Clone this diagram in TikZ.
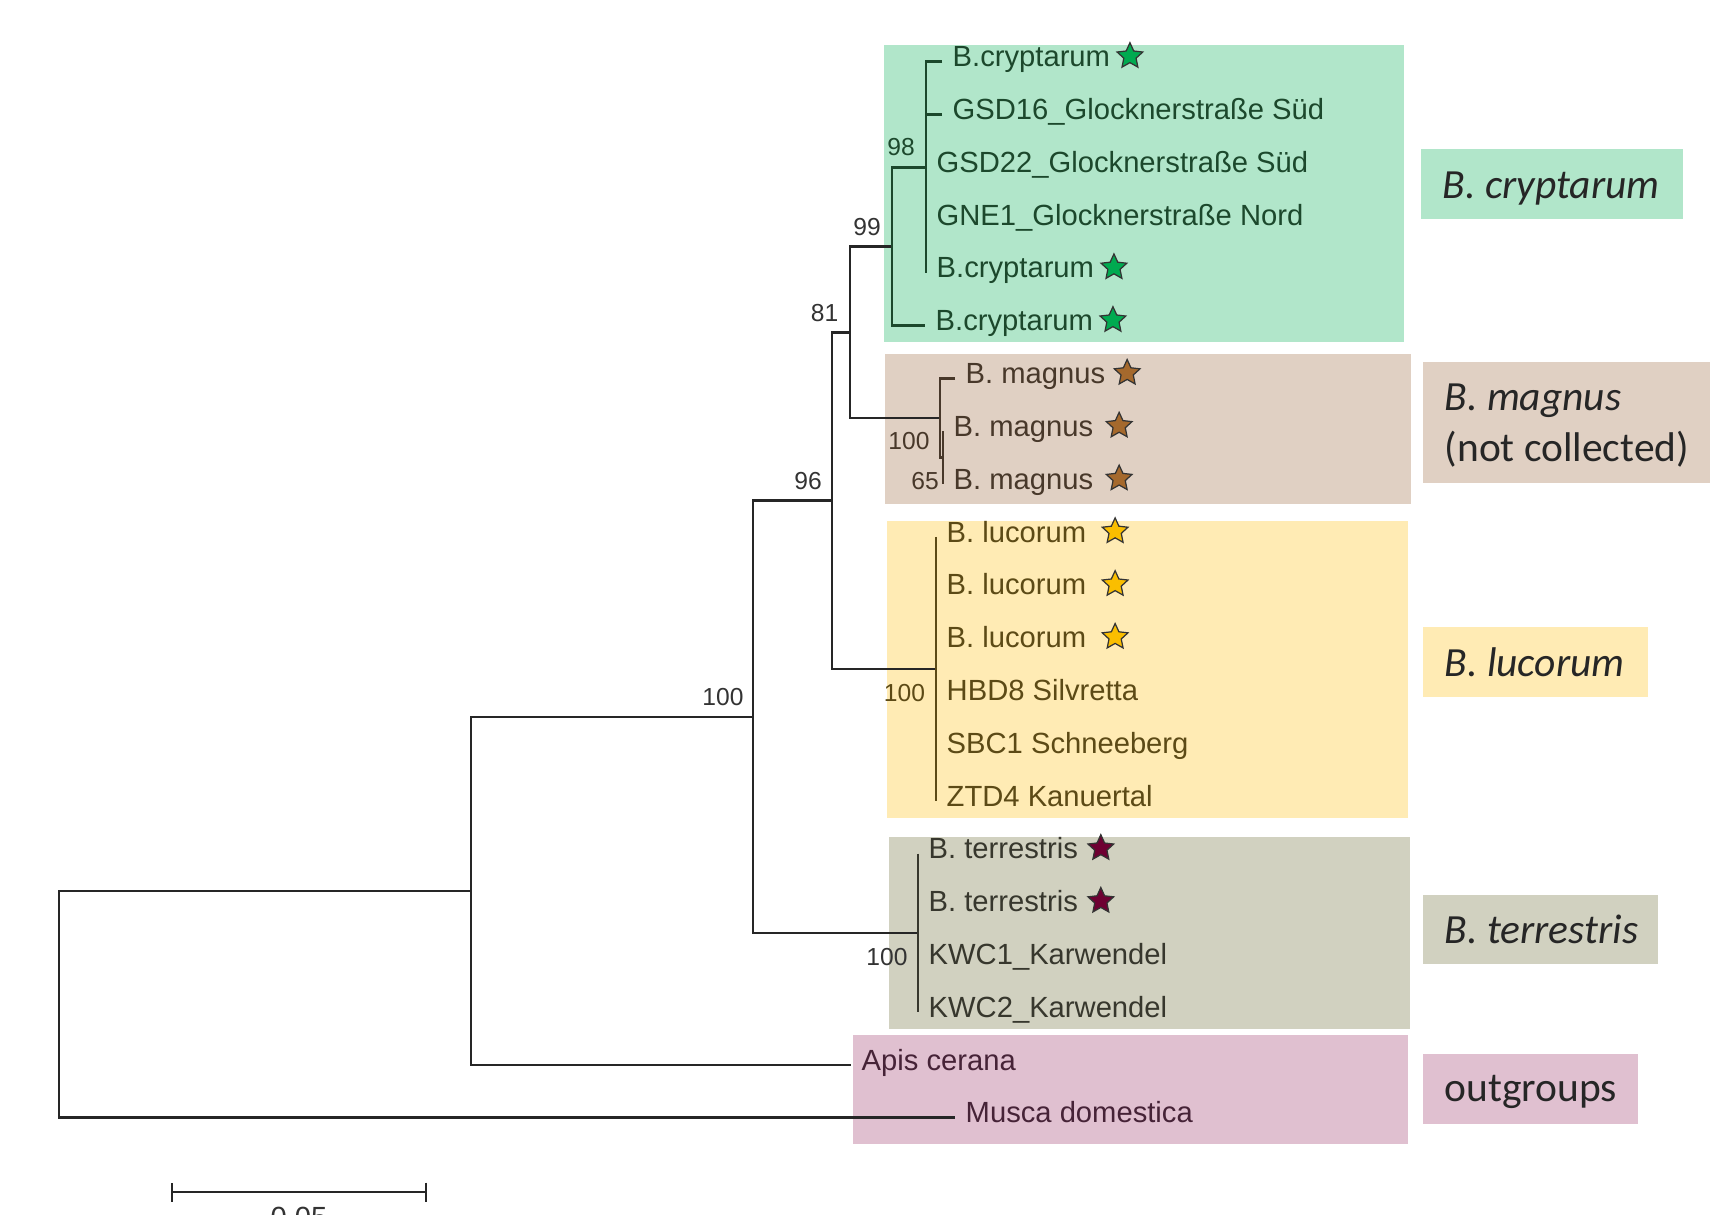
\documentclass[tikz,border=0pt]{standalone}
\usepackage{fontspec}
\setmainfont{Liberation Sans}
\newfontfamily\cladefont{Carlito}
\usepackage{xcolor}
\usepackage{tikz}
\usetikzlibrary{positioning, arrows.meta, shapes.geometric, calc}

\definecolor{crybg}{RGB}{177,230,202}
\definecolor{magbg}{RGB}{224,208,195}
\definecolor{lucbg}{RGB}{255,235,180}
\definecolor{terbg}{RGB}{209,209,192}
\definecolor{outbg}{RGB}{224,192,208}
\definecolor{crytx}{RGB}{28,72,44}
\definecolor{magtx}{RGB}{72,56,42}
\definecolor{luctx}{RGB}{92,74,22}
\definecolor{tertx}{RGB}{55,55,45}
\definecolor{outtx}{RGB}{70,35,55}
\definecolor{crystar}{RGB}{0,170,80}
\definecolor{magstar}{RGB}{165,105,45}
\definecolor{lucstar}{RGB}{250,190,0}
\definecolor{terstar}{RGB}{110,0,50}

\tikzset{
  leaf/.style     ={anchor=west, inner xsep=0.1cm, inner ysep=0pt, text height=5.5pt,
                    text depth=2.6pt, font=\fontsize{8.3}{10}\selectfont},
  boot/.style     ={inner sep=0pt, font=\fontsize{7}{8}\selectfont, text=black!80},
  branch/.style   ={line width=0.7pt, draw=black!85},
  bstar/.style    ={star, star points=5, star point ratio=2.1, minimum size=0.27cm,
                    inner sep=0pt, draw=black!80, line width=0.35pt, yshift=0.055cm},
  cladelbl/.style ={anchor=base west, inner sep=0pt, text=black!85,
                    font=\cladefont\fontsize{11.8}{14.3}\selectfont},
}

\begin{document}
\begin{tikzpicture}[x=0.01cm, y=-0.01cm]
  \useasboundingbox (0,0) rectangle (1717,1215);

  % clade backgrounds
  \fill[crybg] (884,45) rectangle (1404,342);
  \fill[magbg] (885,354) rectangle (1411,504);
  \fill[lucbg] (887,521) rectangle (1408,818);
  \fill[terbg] (889,837) rectangle (1410,1029);
  \fill[outbg] (853,1035) rectangle (1408,1144);

  % leaves
  \node[leaf, text=crytx] (c0) at (942,61.7)  {B.cryptarum};
  \node[leaf, text=crytx] (c1) at (942,114.5) {GSD16\_Glocknerstraße Süd};
  \node[leaf, text=crytx] (c2) at (926,167.3) {GSD22\_Glocknerstraße Süd};
  \node[leaf, text=crytx] (c3) at (926,220.1) {GNE1\_Glocknerstraße Nord};
  \node[leaf, text=crytx] (c4) at (926,272.9) {B.cryptarum};
  \node[leaf, text=crytx] (c5) at (925,325.7) {B.cryptarum};
  \node[leaf, text=magtx] (m0) at (955,378.5) {B. magnus};
  \node[leaf, text=magtx] (m1) at (943,431.3) {B. magnus};
  \node[leaf, text=magtx] (m2) at (943,484.1) {B. magnus};
  \node[leaf, text=luctx] (l0) at (936,536.9) {B. lucorum};
  \node[leaf, text=luctx] (l1) at (936,589.7) {B. lucorum};
  \node[leaf, text=luctx] (l2) at (936,642.5) {B. lucorum};
  \node[leaf, text=luctx] (l3) at (936,695.3) {HBD8 Silvretta};
  \node[leaf, text=luctx] (l4) at (936,748.1) {SBC1 Schneeberg};
  \node[leaf, text=luctx] (l5) at (936,800.9) {ZTD4 Kanuertal};
  \node[leaf, text=tertx] (t0) at (918,853.7) {B. terrestris};
  \node[leaf, text=tertx] (t1) at (918,906.5) {B. terrestris};
  \node[leaf, text=tertx] (t2) at (918,959.3) {KWC1\_Karwendel};
  \node[leaf, text=tertx] (t3) at (918,1012.1){KWC2\_Karwendel};
  \node[leaf, text=outtx] (api) at (851,1064.9) {Apis cerana};
  \node[leaf, text=outtx] (mus) at (955,1117.7) {Musca domestica};

  % stars
  \node[bstar, fill=crystar, right=0pt of c0] (sc0) {};
  \node[bstar, fill=crystar, right=0pt of c4] (sc4) {};
  \node[bstar, fill=crystar, right=0pt of c5] (sc5) {};
  \node[bstar, fill=magstar, right=0.02cm of m0] (sm0) {};
  \node[bstar, fill=magstar, right=0.06cm of m1] (sm1) {};
  \node[bstar, fill=magstar, right=0.06cm of m2] (sm2) {};
  \node[bstar, fill=lucstar, right=0.09cm of l0] (sl0) {};
  \node[bstar, fill=lucstar, right=0.09cm of l1] (sl1) {};
  \node[bstar, fill=lucstar, right=0.09cm of l2] (sl2) {};
  \node[bstar, fill=terstar, right=0.03cm of t0] (st0) {};
  \node[bstar, fill=terstar, right=0.03cm of t1] (st1) {};

  % internal nodes
  \coordinate (nCryIn) at (926,167.3);
  \coordinate (nCry)   at (892,246.5);
  \coordinate (nMag2)  at (943,457.7);
  \coordinate (nMag)   at (940,418.1);
  \coordinate (nCm)    at (850,332.3);
  \coordinate (nLuc)   at (936,668.9);
  \coordinate (nCl)    at (832,500.6);
  \coordinate (nTer)   at (918,932.9);
  \coordinate (nBom)   at (753,716.75);
  \coordinate (nOut)   at (471,890.8);
  \coordinate (nRoot)  at (59,1004.25);

  \draw[branch] (nOut) -| (nRoot) |- (mus.west);
  \draw[branch] (nBom) -| (nOut) |- (api.west);
  \draw[branch] (nCl) -| (nBom) |- (nTer);
  \draw[branch] (nCm) -| (nCl) |- (nLuc);
  \draw[branch] (nCry) -| (nCm) |- (nMag);

  \draw[branch, draw=crytx] (c0.west) -| (c4.west);
  \draw[branch, draw=crytx] (c1.west) -- (c1.west -| c4.west);
  \draw[branch, draw=crytx] (nCryIn) -| (nCry) |- (c5.west);
  \draw[branch, draw=magtx] (m0.west) -| (nMag2 -| nMag) -- (nMag2);
  \draw[branch, draw=magtx] (m1.west) -- (m2.west);
  \draw[branch, draw=luctx] (l0.west) -- (l5.west);
  \draw[branch, draw=tertx] (t0.west) -- (t3.west);

  % bootstrap values
  \node[boot] (b1) at (723,697)   {100};
  \node[boot] (b2) at (808,481)   {96};
  \node[boot] (b3) at (824.5,313) {81};
  \node[boot] (b4) at (867,227)   {99};
  \node[boot, text=crytx] (b5) at (901,147) {98};
  \node[boot, text=magtx] (b6) at (909,441) {100};
  \node[boot, text=magtx] (b7) at (925,481) {65};
  \node[boot, text=luctx] (b8) at (904.5,693) {100};
  \node[boot] (b9) at (887,957)   {100};

  % clade names
  \fill[crybg] (1421,149) rectangle (1683,219);
  \fill[magbg] (1423,362) rectangle (1710,483);
  \fill[lucbg] (1423,627) rectangle (1648,697);
  \fill[terbg] (1423,895) rectangle (1658,964);
  \fill[outbg] (1423,1054) rectangle (1638,1124);
  \node[cladelbl] (gCry)  at (1442,198)  {\itshape B. cryptarum};
  \node[cladelbl] (gMag)  at (1444,410)  {\itshape B. magnus};
  \node[cladelbl] (gMagN) at (1444,461)  {(not collected)};
  \node[cladelbl] (gLuc)  at (1444,676)  {\itshape B. lucorum};
  \node[cladelbl] (gTer)  at (1444,943)  {\itshape B. terrestris};
  \node[cladelbl] (gOut)  at (1444,1101) {outgroups};

  % scale bar
  \coordinate (sbL) at (171,1192);
  \coordinate (sbR) at (427,1192);
  \draw[branch, {Bar[width=0.19cm]}-{Bar[width=0.19cm]}] (sbL) -- (sbR);
  \node[boot, anchor=north, font=\fontsize{8.3}{10}\selectfont] (sbT) at ($(sbL)!0.5!(sbR)+(0,14)$) {0.05};
\end{tikzpicture}
\end{document}
